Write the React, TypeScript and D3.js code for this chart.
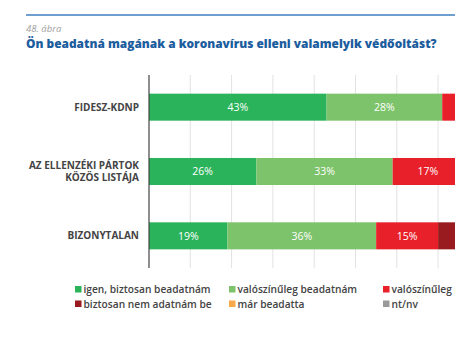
import React from "react";
import * as d3 from "d3";

const categories = ["FIDESZ-KDNP", "AZ ELLENZÉKI PÁRTOK|KÖZÖS LISTÁJA", "BIZONYTALAN"];
const seriesNames = [
  "igen, biztosan beadatnám",
  "valószínűleg beadatnám",
  "valószínűleg nem adatnám be",
  "biztosan nem adatnám be",
  "már beadatta",
  "nt/nv",
];
const seriesColors = ["#2bb35b", "#7dc36b", "#e8202a", "#9a1b1f", "#f9a94b", "#9a9a9a"];
const fidesz = [43, 28, 10, 9, 3, 7];
const ellenzek = [26, 33, 17, 14, 2, 8];
const bizonytalan = [19, 36, 15, 18, 2, 10];
const values = [fidesz, ellenzek, bizonytalan];
const gridTicks = [0, 10, 20, 30, 40, 50, 60, 70, 80, 90, 100];

export default function App() {
  const W = 455, H = 357;
  const x0 = 149;
  const x = d3.scaleLinear().domain([0, 100]).range([x0, x0 + 413]);
  const y = d3.scaleBand().domain(categories).range([75, 268]).paddingInner(0.58).paddingOuter(0.29);
  const font = "'Open Sans', sans-serif";
  return (
    <svg width={W} height={H} style={{ position: "absolute", left: 0, top: 0, background: "#fff" }}>
      <line x1={26} x2={W} y1={15} y2={15} stroke="#3d7fbf" strokeWidth={1.6} />
      <text x={26} y={32} fontFamily={font} fontStyle="italic" fontSize={9.5} fill="#a0a0a0">48. ábra</text>
      <text x={26} y={47.5} fontFamily={font} fontWeight={800} fontSize={11.9} fill="#1c5d9e">
        Ön beadatná magának a koronavírus elleni valamelyik védőoltást?
      </text>
      {gridTicks.slice(1).map((t) => (
        <line key={t} x1={x(t)} x2={x(t)} y1={75} y2={268} stroke="#e2e2e2" strokeWidth={1} />
      ))}
      {categories.map((c, i) => {
        let acc = 0;
        const yy = y(c)!;
        const bh = y.bandwidth();
        return (
          <g key={c}>
            {values[i].map((v, j) => {
              const start = acc;
              acc += v;
              const cx = (x(start) + x(start + v)) / 2;
              return (
                <g key={j}>
                  <rect x={x(start)} y={yy} width={x(start + v) - x(start)} height={bh} fill={seriesColors[j]} />
                  {v >= 5 && cx < W - 10 && (
                    <text x={cx} y={yy + bh / 2 + 3.8} textAnchor="middle"
                      fontFamily={font} fontSize={10.5} fill="#fff">{v}%</text>
                  )}
                </g>
              );
            })}
            {c.split("|").map((line, k, arr) => (
              <text key={k} x={139} y={yy + bh / 2 + 3.5 + (k - (arr.length - 1) / 2) * 11.5} textAnchor="end"
                fontFamily={font} fontWeight={700} fontSize={10} fill="#444">{line}</text>
            ))}
          </g>
        );
      })}
      <line x1={x0} x2={x0} y1={75} y2={268} stroke="#444" strokeWidth={1.2} />
      {seriesNames.map((s, i) => {
        const col = i % 3;
        const row = Math.floor(i / 3);
        const lx = [75, 229, 383][col];
        const ly = 293 + row * 14.5;
        return (
          <g key={s}>
            <rect x={lx} y={ly - 7} width={6.5} height={6.5} fill={seriesColors[i]} />
            <text x={lx + 8.5} y={ly} fontFamily={font} fontWeight={600} fontSize={10.2} fill="#444">{s}</text>
          </g>
        );
      })}
    </svg>
  );
}
